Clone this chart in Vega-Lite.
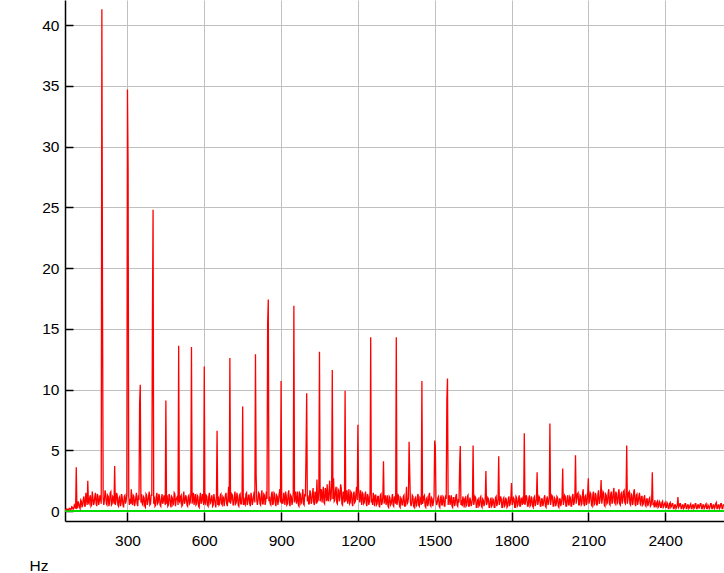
{
  "$schema": "https://vega.github.io/schema/vega-lite/v6.json",
  "width": 659,
  "height": 521,
  "autosize": "none",
  "padding": {"left": 65, "top": 0, "right": 0, "bottom": 52},
  "background": "white",
  "config": {
    "view": {"stroke": null},
    "axis": {
      "labelFont": "Liberation Sans",
      "labelFontSize": 15.5,
      "labelColor": "#000000",
      "titleFont": "Liberation Sans",
      "titleFontSize": 15.5,
      "titleFontWeight": "normal",
      "titleColor": "#000000",
      "domainColor": "#000000",
      "domainWidth": 1.5,
      "tickColor": "#000000",
      "tickWidth": 1.5,
      "gridColor": "#c0c0c0",
      "gridWidth": 1,
      "gridOpacity": 1
    }
  },
  "data": {"values": [
{"f":56,"a":0.1},{"f":57.5,"a":0.12},{"f":60,"a":0.1},{"f":62.5,"a":0.18},{"f":65,"a":0.15},{"f":67.5,"a":0.1},{"f":70,"a":0.1},{"f":72.5,"a":0.22},{"f":75,"a":0.2},{"f":77.5,"a":0.12},{"f":80,"a":0.15},{"f":82.5,"a":0.35},{"f":85,"a":0.3},{"f":87.5,"a":0.15},{"f":90,"a":0.2},{"f":92.5,"a":0.5},{"f":95,"a":0.4},{"f":97.5,"a":0.2},{"f":100,"a":3.6},{"f":102.5,"a":0.25},
{"f":105,"a":0.3},{"f":107.5,"a":0.8},{"f":110,"a":0.6},{"f":112.5,"a":0.3},{"f":115,"a":0.2},{"f":117.5,"a":0.9},{"f":120,"a":0.8},{"f":122.5,"a":0.3},{"f":125,"a":0.5},{"f":127.5,"a":1.0},{"f":130,"a":1.2},{"f":132.5,"a":0.4},{"f":135,"a":0.4},{"f":137.5,"a":1.5},{"f":140,"a":1.0},{"f":142.5,"a":0.5},{"f":145,"a":2.5},{"f":147.5,"a":0.7},{"f":150,"a":0.6},{"f":152.5,"a":1.1},
{"f":155,"a":1.3},{"f":157.5,"a":0.4},{"f":160,"a":0.5},{"f":162.5,"a":1.6},{"f":165,"a":1.1},{"f":167.5,"a":0.5},{"f":170,"a":0.7},{"f":172.5,"a":1.2},{"f":175,"a":1.5},{"f":177.5,"a":0.6},{"f":180,"a":0.4},{"f":182.5,"a":1.4},{"f":185,"a":1.2},{"f":187.5,"a":0.5},{"f":190,"a":0.8},{"f":192.5,"a":1.3},{"f":195,"a":1.0},{"f":197.5,"a":0.6},{"f":200,"a":41.3},{"f":202.5,"a":17.3},
{"f":205,"a":1.1},{"f":207.5,"a":0.5},{"f":210,"a":0.9},{"f":212.5,"a":1.7},{"f":215,"a":1.4},{"f":217.5,"a":0.6},{"f":220,"a":0.5},{"f":222.5,"a":1.3},{"f":225,"a":1.2},{"f":227.5,"a":0.4},{"f":230,"a":0.7},{"f":232.5,"a":1.5},{"f":235,"a":1.6},{"f":237.5,"a":0.5},{"f":240,"a":0.6},{"f":242.5,"a":1.2},{"f":245,"a":1.1},{"f":247.5,"a":0.6},{"f":250,"a":3.7},{"f":252.5,"a":0.5},
{"f":255,"a":0.8},{"f":257.5,"a":1.5},{"f":260,"a":1.3},{"f":262.5,"a":0.5},{"f":265,"a":0.4},{"f":267.5,"a":1.1},{"f":270,"a":1.2},{"f":272.5,"a":0.4},{"f":275,"a":0.6},{"f":277.5,"a":1.4},{"f":280,"a":1.0},{"f":282.5,"a":0.5},{"f":285,"a":0.3},{"f":287.5,"a":1.2},{"f":290,"a":1.3},{"f":292.5,"a":0.6},{"f":295,"a":0.9},{"f":297.5,"a":1.4},{"f":300,"a":34.7},{"f":302.5,"a":28.0},
{"f":305,"a":1.2},{"f":307.5,"a":0.5},{"f":310,"a":1.0},{"f":312.5,"a":0.6},{"f":315,"a":1.8},{"f":317.5,"a":0.7},{"f":320,"a":0.5},{"f":322.5,"a":1.3},{"f":325,"a":1.2},{"f":327.5,"a":0.4},{"f":330,"a":0.7},{"f":332.5,"a":1.1},{"f":335,"a":1.5},{"f":337.5,"a":0.6},{"f":340,"a":0.4},{"f":342.5,"a":1.3},{"f":345,"a":0.9},{"f":347.5,"a":8.9},{"f":350,"a":10.4},{"f":352.5,"a":0.7},
{"f":355,"a":1.4},{"f":357.5,"a":0.6},{"f":360,"a":0.5},{"f":362.5,"a":1.2},{"f":365,"a":1.1},{"f":367.5,"a":0.4},{"f":370,"a":0.3},{"f":372.5,"a":1.4},{"f":375,"a":1.3},{"f":377.5,"a":0.5},{"f":380,"a":0.8},{"f":382.5,"a":1.2},{"f":385,"a":1.6},{"f":387.5,"a":0.5},{"f":390,"a":0.6},{"f":392.5,"a":1.3},{"f":395,"a":1.3},{"f":397.5,"a":15.9},{"f":400,"a":24.8},{"f":402.5,"a":0.6},
{"f":405,"a":1.2},{"f":407.5,"a":0.4},{"f":410,"a":0.5},{"f":412.5,"a":1.2},{"f":415,"a":1.5},{"f":417.5,"a":0.6},{"f":420,"a":0.7},{"f":422.5,"a":1.4},{"f":425,"a":1.2},{"f":427.5,"a":0.5},{"f":430,"a":0.4},{"f":432.5,"a":1.0},{"f":435,"a":1.4},{"f":437.5,"a":0.6},{"f":440,"a":0.8},{"f":442.5,"a":1.3},{"f":445,"a":1.0},{"f":447.5,"a":0.5},{"f":450,"a":9.1},{"f":452.5,"a":0.6},
{"f":455,"a":1.3},{"f":457.5,"a":0.4},{"f":460,"a":0.5},{"f":462.5,"a":1.4},{"f":465,"a":1.2},{"f":467.5,"a":0.6},{"f":470,"a":0.3},{"f":472.5,"a":1.2},{"f":475,"a":1.1},{"f":477.5,"a":0.5},{"f":480,"a":0.6},{"f":482.5,"a":1.5},{"f":485,"a":1.4},{"f":487.5,"a":0.4},{"f":490,"a":0.9},{"f":492.5,"a":1.1},{"f":495,"a":1.2},{"f":497.5,"a":0.5},{"f":500,"a":13.6},{"f":502.5,"a":0.8},
{"f":505,"a":0.7},{"f":507.5,"a":1.2},{"f":510,"a":1.3},{"f":512.5,"a":0.4},{"f":515,"a":0.5},{"f":517.5,"a":1.1},{"f":520,"a":1.6},{"f":522.5,"a":0.6},{"f":525,"a":0.8},{"f":527.5,"a":1.3},{"f":530,"a":1.1},{"f":532.5,"a":0.5},{"f":535,"a":0.4},{"f":537.5,"a":1.2},{"f":540,"a":1.3},{"f":542.5,"a":0.6},{"f":545,"a":0.7},{"f":547.5,"a":1.4},{"f":550,"a":13.5},{"f":552.5,"a":0.6},
{"f":555,"a":1.0},{"f":557.5,"a":1.5},{"f":560,"a":0.5},{"f":562.5,"a":0.9},{"f":565,"a":1.4},{"f":567.5,"a":0.5},{"f":570,"a":0.6},{"f":572.5,"a":1.3},{"f":575,"a":1.2},{"f":577.5,"a":0.4},{"f":580,"a":0.3},{"f":582.5,"a":1.1},{"f":585,"a":1.5},{"f":587.5,"a":0.6},{"f":590,"a":0.8},{"f":592.5,"a":1.4},{"f":595,"a":1.1},{"f":597.5,"a":0.5},{"f":600,"a":11.9},{"f":602.5,"a":0.7},
{"f":605,"a":0.6},{"f":607.5,"a":1.3},{"f":610,"a":1.2},{"f":612.5,"a":0.5},{"f":615,"a":0.4},{"f":617.5,"a":1.2},{"f":620,"a":1.5},{"f":622.5,"a":0.6},{"f":625,"a":0.7},{"f":627.5,"a":1.1},{"f":630,"a":1.3},{"f":632.5,"a":0.4},{"f":635,"a":0.5},{"f":637.5,"a":1.4},{"f":640,"a":1.0},{"f":642.5,"a":0.6},{"f":645,"a":0.3},{"f":647.5,"a":1.2},{"f":650,"a":6.6},{"f":652.5,"a":0.5},
{"f":655,"a":1.2},{"f":657.5,"a":0.5},{"f":660,"a":0.6},{"f":662.5,"a":1.3},{"f":665,"a":1.4},{"f":667.5,"a":0.6},{"f":670,"a":0.5},{"f":672.5,"a":1.2},{"f":675,"a":1.1},{"f":677.5,"a":0.4},{"f":680,"a":0.8},{"f":682.5,"a":1.3},{"f":685,"a":1.5},{"f":687.5,"a":0.6},{"f":690,"a":0.4},{"f":692.5,"a":1.1},{"f":695,"a":2.0},{"f":697.5,"a":0.7},{"f":700,"a":12.6},{"f":702.5,"a":0.6},
{"f":705,"a":0.9},{"f":707.5,"a":1.4},{"f":710,"a":1.3},{"f":712.5,"a":0.5},{"f":715,"a":0.5},{"f":717.5,"a":1.2},{"f":720,"a":1.6},{"f":722.5,"a":0.6},{"f":725,"a":0.7},{"f":727.5,"a":1.5},{"f":730,"a":1.2},{"f":732.5,"a":0.5},{"f":735,"a":0.4},{"f":737.5,"a":1.3},{"f":740,"a":1.4},{"f":742.5,"a":0.6},{"f":745,"a":0.6},{"f":747.5,"a":1.2},{"f":750,"a":8.6},{"f":752.5,"a":0.5},
{"f":755,"a":1.1},{"f":757.5,"a":0.6},{"f":760,"a":0.5},{"f":762.5,"a":1.4},{"f":765,"a":1.5},{"f":767.5,"a":0.5},{"f":770,"a":0.7},{"f":772.5,"a":1.3},{"f":775,"a":1.3},{"f":777.5,"a":0.6},{"f":780,"a":0.4},{"f":782.5,"a":1.5},{"f":785,"a":1.2},{"f":787.5,"a":0.5},{"f":790,"a":0.8},{"f":792.5,"a":1.2},{"f":795,"a":1.6},{"f":797.5,"a":0.7},{"f":800,"a":12.9},{"f":802.5,"a":3.0},
{"f":805,"a":0.9},{"f":807.5,"a":0.5},{"f":810,"a":0.9},{"f":812.5,"a":1.5},{"f":815,"a":1.4},{"f":817.5,"a":0.6},{"f":820,"a":0.5},{"f":822.5,"a":1.3},{"f":825,"a":1.7},{"f":827.5,"a":0.6},{"f":830,"a":0.6},{"f":832.5,"a":1.4},{"f":835,"a":1.3},{"f":837.5,"a":0.5},{"f":840,"a":0.8},{"f":842.5,"a":1.6},{"f":845,"a":1.0},{"f":847.5,"a":15.4},{"f":850,"a":17.4},{"f":852.5,"a":0.8},
{"f":855,"a":1.2},{"f":857.5,"a":0.6},{"f":860,"a":0.5},{"f":862.5,"a":1.4},{"f":865,"a":1.6},{"f":867.5,"a":0.5},{"f":870,"a":0.7},{"f":872.5,"a":1.5},{"f":875,"a":1.4},{"f":877.5,"a":0.6},{"f":880,"a":0.4},{"f":882.5,"a":1.3},{"f":885,"a":1.2},{"f":887.5,"a":0.5},{"f":890,"a":0.9},{"f":892.5,"a":1.4},{"f":895,"a":1.8},{"f":897.5,"a":0.7},{"f":900,"a":10.7},{"f":902.5,"a":0.6},
{"f":905,"a":1.0},{"f":907.5,"a":0.6},{"f":910,"a":1.5},{"f":912.5,"a":1.1},{"f":915,"a":0.5},{"f":917.5,"a":1.6},{"f":920,"a":1.3},{"f":922.5,"a":0.5},{"f":925,"a":0.6},{"f":927.5,"a":1.4},{"f":930,"a":1.7},{"f":932.5,"a":0.6},{"f":935,"a":0.4},{"f":937.5,"a":1.3},{"f":940,"a":1.2},{"f":942.5,"a":0.5},{"f":945,"a":0.8},{"f":947.5,"a":1.5},{"f":950,"a":16.9},{"f":952.5,"a":0.7},
{"f":955,"a":1.1},{"f":957.5,"a":1.6},{"f":960,"a":0.6},{"f":962.5,"a":0.9},{"f":965,"a":1.6},{"f":967.5,"a":0.5},{"f":970,"a":0.4},{"f":972.5,"a":1.5},{"f":975,"a":1.4},{"f":977.5,"a":0.6},{"f":980,"a":0.7},{"f":982.5,"a":1.3},{"f":985,"a":1.8},{"f":987.5,"a":0.6},{"f":990,"a":0.5},{"f":992.5,"a":1.4},{"f":995,"a":1.2},{"f":997.5,"a":4.9},{"f":1000,"a":9.7},{"f":1002.5,"a":0.8},
{"f":1005,"a":1.3},{"f":1007.5,"a":0.6},{"f":1010,"a":0.6},{"f":1012.5,"a":1.7},{"f":1015,"a":1.5},{"f":1017.5,"a":0.6},{"f":1020,"a":0.8},{"f":1022.5,"a":1.4},{"f":1025,"a":1.9},{"f":1027.5,"a":0.7},{"f":1030,"a":0.5},{"f":1032.5,"a":1.6},{"f":1035,"a":1.4},{"f":1037.5,"a":0.6},{"f":1040,"a":2.6},{"f":1042.5,"a":0.8},{"f":1045,"a":0.9},{"f":1047.5,"a":1.7},{"f":1050,"a":13.1},{"f":1052.5,"a":0.8},
{"f":1055,"a":1.2},{"f":1057.5,"a":1.8},{"f":1060,"a":0.7},{"f":1062.5,"a":1.3},{"f":1065,"a":2.0},{"f":1067.5,"a":0.7},{"f":1070,"a":0.6},{"f":1072.5,"a":1.9},{"f":1075,"a":1.6},{"f":1077.5,"a":0.8},{"f":1080,"a":2.2},{"f":1082.5,"a":1.0},{"f":1085,"a":0.8},{"f":1087.5,"a":1.8},{"f":1090,"a":2.5},{"f":1092.5,"a":0.9},{"f":1095,"a":1.0},{"f":1097.5,"a":2.1},{"f":1100,"a":11.6},{"f":1102.5,"a":1.0},
{"f":1105,"a":2.7},{"f":1107.5,"a":0.8},{"f":1110,"a":0.9},{"f":1112.5,"a":1.7},{"f":1115,"a":2.0},{"f":1117.5,"a":0.7},{"f":1120,"a":0.6},{"f":1122.5,"a":1.8},{"f":1125,"a":1.7},{"f":1127.5,"a":0.8},{"f":1130,"a":1.1},{"f":1132.5,"a":2.2},{"f":1135,"a":1.9},{"f":1137.5,"a":0.6},{"f":1140,"a":0.5},{"f":1142.5,"a":1.6},{"f":1145,"a":1.4},{"f":1147.5,"a":0.7},{"f":1150,"a":9.9},{"f":1152.5,"a":0.8},
{"f":1155,"a":1.2},{"f":1157.5,"a":1.7},{"f":1160,"a":0.6},{"f":1162.5,"a":1.0},{"f":1165,"a":1.8},{"f":1167.5,"a":0.6},{"f":1170,"a":0.7},{"f":1172.5,"a":1.6},{"f":1175,"a":1.5},{"f":1177.5,"a":0.6},{"f":1180,"a":0.4},{"f":1182.5,"a":1.4},{"f":1185,"a":1.6},{"f":1187.5,"a":0.7},{"f":1190,"a":0.8},{"f":1192.5,"a":1.5},{"f":1195,"a":2.0},{"f":1197.5,"a":0.9},{"f":1200,"a":7.1},{"f":1202.5,"a":1.8},
{"f":1205,"a":1.1},{"f":1207.5,"a":0.7},{"f":1210,"a":1.7},{"f":1212.5,"a":1.2},{"f":1215,"a":0.5},{"f":1217.5,"a":1.5},{"f":1220,"a":1.4},{"f":1222.5,"a":0.6},{"f":1225,"a":0.7},{"f":1227.5,"a":1.3},{"f":1230,"a":1.6},{"f":1232.5,"a":0.6},{"f":1235,"a":0.4},{"f":1237.5,"a":1.4},{"f":1240,"a":1.2},{"f":1242.5,"a":0.5},{"f":1245,"a":0.8},{"f":1247.5,"a":1.5},{"f":1250,"a":14.3},{"f":1252.5,"a":0.7},
{"f":1255,"a":1.0},{"f":1257.5,"a":0.5},{"f":1260,"a":1.5},{"f":1262.5,"a":1.1},{"f":1265,"a":0.4},{"f":1267.5,"a":1.3},{"f":1270,"a":1.3},{"f":1272.5,"a":0.5},{"f":1275,"a":0.6},{"f":1277.5,"a":1.2},{"f":1280,"a":1.2},{"f":1282.5,"a":0.5},{"f":1285,"a":0.3},{"f":1287.5,"a":1.3},{"f":1290,"a":1.4},{"f":1292.5,"a":0.5},{"f":1295,"a":0.7},{"f":1297.5,"a":1.2},{"f":1300,"a":4.1},{"f":1302.5,"a":0.6},
{"f":1305,"a":1.0},{"f":1307.5,"a":1.3},{"f":1310,"a":0.5},{"f":1312.5,"a":0.8},{"f":1315,"a":1.3},{"f":1317.5,"a":0.4},{"f":1320,"a":0.3},{"f":1322.5,"a":1.2},{"f":1325,"a":1.1},{"f":1327.5,"a":0.5},{"f":1330,"a":0.6},{"f":1332.5,"a":1.0},{"f":1335,"a":1.4},{"f":1337.5,"a":0.5},{"f":1340,"a":0.4},{"f":1342.5,"a":1.2},{"f":1345,"a":1.0},{"f":1347.5,"a":0.6},{"f":1350,"a":14.3},{"f":1352.5,"a":0.5},
{"f":1355,"a":0.8},{"f":1357.5,"a":1.3},{"f":1360,"a":1.2},{"f":1362.5,"a":0.4},{"f":1365,"a":0.3},{"f":1367.5,"a":1.1},{"f":1370,"a":1.0},{"f":1372.5,"a":0.5},{"f":1375,"a":0.5},{"f":1377.5,"a":1.2},{"f":1380,"a":1.3},{"f":1382.5,"a":0.4},{"f":1385,"a":0.4},{"f":1387.5,"a":1.0},{"f":1390,"a":2.0},{"f":1392.5,"a":0.6},{"f":1395,"a":0.7},{"f":1397.5,"a":1.1},{"f":1400,"a":5.7},{"f":1402.5,"a":3.2},
{"f":1405,"a":0.8},{"f":1407.5,"a":0.4},{"f":1410,"a":0.6},{"f":1412.5,"a":1.3},{"f":1415,"a":1.2},{"f":1417.5,"a":0.4},{"f":1420,"a":0.3},{"f":1422.5,"a":1.0},{"f":1425,"a":1.1},{"f":1427.5,"a":0.4},{"f":1430,"a":0.5},{"f":1432.5,"a":1.2},{"f":1435,"a":1.4},{"f":1437.5,"a":0.5},{"f":1440,"a":0.4},{"f":1442.5,"a":1.1},{"f":1445,"a":1.0},{"f":1447.5,"a":0.5},{"f":1450,"a":10.7},{"f":1452.5,"a":0.6},
{"f":1455,"a":0.8},{"f":1457.5,"a":1.2},{"f":1460,"a":1.3},{"f":1462.5,"a":0.4},{"f":1465,"a":0.3},{"f":1467.5,"a":1.0},{"f":1470,"a":1.1},{"f":1472.5,"a":0.4},{"f":1475,"a":0.6},{"f":1477.5,"a":1.3},{"f":1480,"a":1.5},{"f":1482.5,"a":0.5},{"f":1485,"a":0.4},{"f":1487.5,"a":1.1},{"f":1490,"a":1.0},{"f":1492.5,"a":0.4},{"f":1495,"a":0.7},{"f":1497.5,"a":1.2},{"f":1500,"a":5.8},{"f":1502.5,"a":5.3},
{"f":1505,"a":0.9},{"f":1507.5,"a":0.5},{"f":1510,"a":0.7},{"f":1512.5,"a":1.1},{"f":1515,"a":1.2},{"f":1517.5,"a":0.4},{"f":1520,"a":0.3},{"f":1522.5,"a":1.0},{"f":1525,"a":1.3},{"f":1527.5,"a":0.5},{"f":1530,"a":0.5},{"f":1532.5,"a":1.2},{"f":1535,"a":1.1},{"f":1537.5,"a":0.4},{"f":1540,"a":0.4},{"f":1542.5,"a":1.3},{"f":1545,"a":1.0},{"f":1547.5,"a":9.2},{"f":1550,"a":10.9},{"f":1552.5,"a":0.5},
{"f":1555,"a":1.0},{"f":1557.5,"a":1.3},{"f":1560,"a":0.5},{"f":1562.5,"a":0.8},{"f":1565,"a":1.3},{"f":1567.5,"a":0.4},{"f":1570,"a":0.3},{"f":1572.5,"a":1.1},{"f":1575,"a":1.1},{"f":1577.5,"a":0.4},{"f":1580,"a":0.6},{"f":1582.5,"a":1.2},{"f":1585,"a":1.4},{"f":1587.5,"a":0.5},{"f":1590,"a":0.4},{"f":1592.5,"a":1.0},{"f":1595,"a":0.7},{"f":1597.5,"a":3.8},{"f":1600,"a":5.35},{"f":1602.5,"a":0.5},
{"f":1605,"a":0.9},{"f":1607.5,"a":0.4},{"f":1610,"a":1.2},{"f":1612.5,"a":0.9},{"f":1615,"a":0.3},{"f":1617.5,"a":1.0},{"f":1620,"a":1.1},{"f":1622.5,"a":0.4},{"f":1625,"a":0.5},{"f":1627.5,"a":1.2},{"f":1630,"a":1.3},{"f":1632.5,"a":0.4},{"f":1635,"a":0.4},{"f":1637.5,"a":1.1},{"f":1640,"a":0.9},{"f":1642.5,"a":0.4},{"f":1645,"a":0.6},{"f":1647.5,"a":1.0},{"f":1650,"a":5.4},{"f":1652.5,"a":0.5},
{"f":1655,"a":0.8},{"f":1657.5,"a":1.2},{"f":1660,"a":1.1},{"f":1662.5,"a":0.3},{"f":1665,"a":0.3},{"f":1667.5,"a":0.9},{"f":1670,"a":1.0},{"f":1672.5,"a":0.4},{"f":1675,"a":0.5},{"f":1677.5,"a":1.1},{"f":1680,"a":1.2},{"f":1682.5,"a":0.4},{"f":1685,"a":0.3},{"f":1687.5,"a":1.0},{"f":1690,"a":0.9},{"f":1692.5,"a":0.4},{"f":1695,"a":0.6},{"f":1697.5,"a":1.1},{"f":1700,"a":3.3},{"f":1702.5,"a":0.5},
{"f":1705,"a":0.7},{"f":1707.5,"a":1.1},{"f":1710,"a":1.0},{"f":1712.5,"a":0.3},{"f":1715,"a":0.3},{"f":1717.5,"a":0.9},{"f":1720,"a":1.1},{"f":1722.5,"a":0.4},{"f":1725,"a":0.5},{"f":1727.5,"a":1.0},{"f":1730,"a":0.9},{"f":1732.5,"a":0.3},{"f":1735,"a":0.3},{"f":1737.5,"a":1.1},{"f":1740,"a":1.2},{"f":1742.5,"a":0.4},{"f":1745,"a":0.6},{"f":1747.5,"a":1.0},{"f":1750,"a":4.5},{"f":1752.5,"a":0.5},
{"f":1755,"a":0.8},{"f":1757.5,"a":1.2},{"f":1760,"a":1.0},{"f":1762.5,"a":0.3},{"f":1765,"a":0.3},{"f":1767.5,"a":1.0},{"f":1770,"a":1.1},{"f":1772.5,"a":0.4},{"f":1775,"a":0.5},{"f":1777.5,"a":1.1},{"f":1780,"a":0.9},{"f":1782.5,"a":0.3},{"f":1785,"a":0.4},{"f":1787.5,"a":1.0},{"f":1790,"a":1.2},{"f":1792.5,"a":0.4},{"f":1795,"a":0.6},{"f":1797.5,"a":1.1},{"f":1800,"a":2.3},{"f":1802.5,"a":0.5},
{"f":1805,"a":0.7},{"f":1807.5,"a":1.1},{"f":1810,"a":1.0},{"f":1812.5,"a":0.3},{"f":1815,"a":0.3},{"f":1817.5,"a":1.2},{"f":1820,"a":1.1},{"f":1822.5,"a":0.4},{"f":1825,"a":0.5},{"f":1827.5,"a":1.0},{"f":1830,"a":1.3},{"f":1832.5,"a":0.4},{"f":1835,"a":0.4},{"f":1837.5,"a":1.1},{"f":1840,"a":0.9},{"f":1842.5,"a":0.5},{"f":1845,"a":1.2},{"f":1847.5,"a":0.6},{"f":1850,"a":6.4},{"f":1852.5,"a":0.5},
{"f":1855,"a":0.8},{"f":1857.5,"a":1.3},{"f":1860,"a":1.1},{"f":1862.5,"a":0.4},{"f":1865,"a":0.4},{"f":1867.5,"a":1.0},{"f":1870,"a":1.3},{"f":1872.5,"a":0.4},{"f":1875,"a":0.5},{"f":1877.5,"a":1.2},{"f":1880,"a":1.0},{"f":1882.5,"a":0.4},{"f":1885,"a":0.3},{"f":1887.5,"a":1.1},{"f":1890,"a":1.2},{"f":1892.5,"a":0.4},{"f":1895,"a":0.6},{"f":1897.5,"a":1.0},{"f":1900,"a":3.2},{"f":1902.5,"a":0.5},
{"f":1905,"a":0.8},{"f":1907.5,"a":1.2},{"f":1910,"a":1.1},{"f":1912.5,"a":0.4},{"f":1915,"a":0.4},{"f":1917.5,"a":1.0},{"f":1920,"a":1.0},{"f":1922.5,"a":0.4},{"f":1925,"a":0.6},{"f":1927.5,"a":1.1},{"f":1930,"a":1.3},{"f":1932.5,"a":0.4},{"f":1935,"a":0.3},{"f":1937.5,"a":1.0},{"f":1940,"a":1.2},{"f":1942.5,"a":0.5},{"f":1945,"a":0.7},{"f":1947.5,"a":1.1},{"f":1950,"a":7.2},{"f":1952.5,"a":0.5},
{"f":1955,"a":0.9},{"f":1957.5,"a":1.3},{"f":1960,"a":1.2},{"f":1962.5,"a":0.4},{"f":1965,"a":0.4},{"f":1967.5,"a":1.1},{"f":1970,"a":1.0},{"f":1972.5,"a":0.4},{"f":1975,"a":0.6},{"f":1977.5,"a":1.2},{"f":1980,"a":1.1},{"f":1982.5,"a":0.4},{"f":1985,"a":0.3},{"f":1987.5,"a":1.0},{"f":1990,"a":1.0},{"f":1992.5,"a":0.4},{"f":1995,"a":0.7},{"f":1997.5,"a":1.1},{"f":2000,"a":3.5},{"f":2002.5,"a":0.5},
{"f":2005,"a":0.8},{"f":2007.5,"a":1.3},{"f":2010,"a":1.2},{"f":2012.5,"a":0.4},{"f":2015,"a":0.4},{"f":2017.5,"a":1.1},{"f":2020,"a":1.3},{"f":2022.5,"a":0.5},{"f":2025,"a":0.5},{"f":2027.5,"a":1.2},{"f":2030,"a":1.1},{"f":2032.5,"a":0.4},{"f":2035,"a":0.4},{"f":2037.5,"a":1.2},{"f":2040,"a":1.4},{"f":2042.5,"a":0.5},{"f":2045,"a":0.7},{"f":2047.5,"a":1.3},{"f":2050,"a":4.6},{"f":2052.5,"a":0.6},
{"f":2055,"a":1.0},{"f":2057.5,"a":1.4},{"f":2060,"a":1.5},{"f":2062.5,"a":0.5},{"f":2065,"a":0.5},{"f":2067.5,"a":1.3},{"f":2070,"a":1.2},{"f":2072.5,"a":0.5},{"f":2075,"a":0.6},{"f":2077.5,"a":1.4},{"f":2080,"a":1.8},{"f":2082.5,"a":0.6},{"f":2085,"a":0.4},{"f":2087.5,"a":1.2},{"f":2090,"a":1.3},{"f":2092.5,"a":0.5},{"f":2095,"a":0.7},{"f":2097.5,"a":1.4},{"f":2100,"a":2.7},{"f":2102.5,"a":0.6},
{"f":2105,"a":0.9},{"f":2107.5,"a":1.5},{"f":2110,"a":1.4},{"f":2112.5,"a":0.5},{"f":2115,"a":0.4},{"f":2117.5,"a":1.3},{"f":2120,"a":1.6},{"f":2122.5,"a":0.5},{"f":2125,"a":0.6},{"f":2127.5,"a":1.5},{"f":2130,"a":1.3},{"f":2132.5,"a":0.5},{"f":2135,"a":0.5},{"f":2137.5,"a":1.4},{"f":2140,"a":1.7},{"f":2142.5,"a":0.6},{"f":2145,"a":0.8},{"f":2147.5,"a":1.3},{"f":2150,"a":2.55},{"f":2152.5,"a":0.6},
{"f":2155,"a":1.0},{"f":2157.5,"a":1.6},{"f":2160,"a":1.5},{"f":2162.5,"a":0.5},{"f":2165,"a":0.4},{"f":2167.5,"a":1.4},{"f":2170,"a":1.3},{"f":2172.5,"a":0.6},{"f":2175,"a":0.7},{"f":2177.5,"a":1.5},{"f":2180,"a":1.8},{"f":2182.5,"a":0.6},{"f":2185,"a":0.5},{"f":2187.5,"a":1.4},{"f":2190,"a":1.6},{"f":2192.5,"a":0.6},{"f":2195,"a":0.8},{"f":2197.5,"a":1.5},{"f":2200,"a":1.9},{"f":2202.5,"a":0.7},
{"f":2205,"a":0.6},{"f":2207.5,"a":1.6},{"f":2210,"a":1.4},{"f":2212.5,"a":0.6},{"f":2215,"a":0.7},{"f":2217.5,"a":1.5},{"f":2220,"a":1.8},{"f":2222.5,"a":0.6},{"f":2225,"a":0.5},{"f":2227.5,"a":1.4},{"f":2230,"a":1.5},{"f":2232.5,"a":0.6},{"f":2235,"a":0.9},{"f":2237.5,"a":1.6},{"f":2240,"a":1.7},{"f":2242.5,"a":0.7},{"f":2245,"a":0.6},{"f":2247.5,"a":1.5},{"f":2250,"a":5.4},{"f":2252.5,"a":0.6},
{"f":2255,"a":1.0},{"f":2257.5,"a":1.5},{"f":2260,"a":1.6},{"f":2262.5,"a":0.6},{"f":2265,"a":0.5},{"f":2267.5,"a":1.4},{"f":2270,"a":1.3},{"f":2272.5,"a":0.5},{"f":2275,"a":0.7},{"f":2277.5,"a":1.6},{"f":2280,"a":1.8},{"f":2282.5,"a":0.6},{"f":2285,"a":0.4},{"f":2287.5,"a":1.3},{"f":2290,"a":1.4},{"f":2292.5,"a":0.5},{"f":2295,"a":0.8},{"f":2297.5,"a":1.2},{"f":2300,"a":1.5},{"f":2302.5,"a":0.6},
{"f":2305,"a":0.5},{"f":2307.5,"a":1.2},{"f":2310,"a":1.2},{"f":2312.5,"a":0.5},{"f":2315,"a":0.6},{"f":2317.5,"a":1.1},{"f":2320,"a":1.3},{"f":2322.5,"a":0.5},{"f":2325,"a":0.4},{"f":2327.5,"a":1.0},{"f":2330,"a":1.0},{"f":2332.5,"a":0.4},{"f":2335,"a":0.6},{"f":2337.5,"a":1.0},{"f":2340,"a":1.1},{"f":2342.5,"a":0.4},{"f":2345,"a":0.5},{"f":2347.5,"a":0.9},{"f":2350,"a":3.2},{"f":2352.5,"a":0.5},
{"f":2355,"a":0.7},{"f":2357.5,"a":0.3},{"f":2360,"a":0.9},{"f":2362.5,"a":0.5},{"f":2365,"a":0.3},{"f":2367.5,"a":0.7},{"f":2370,"a":0.8},{"f":2372.5,"a":0.3},{"f":2375,"a":0.4},{"f":2377.5,"a":0.8},{"f":2380,"a":0.7},{"f":2382.5,"a":0.3},{"f":2385,"a":0.3},{"f":2387.5,"a":0.7},{"f":2390,"a":0.8},{"f":2392.5,"a":0.3},{"f":2395,"a":0.4},{"f":2397.5,"a":0.6},{"f":2400,"a":0.7},{"f":2402.5,"a":0.3},
{"f":2405,"a":0.3},{"f":2407.5,"a":0.7},{"f":2410,"a":0.6},{"f":2412.5,"a":0.2},{"f":2415,"a":0.2},{"f":2417.5,"a":0.6},{"f":2420,"a":0.7},{"f":2422.5,"a":0.3},{"f":2425,"a":0.4},{"f":2427.5,"a":0.6},{"f":2430,"a":0.6},{"f":2432.5,"a":0.2},{"f":2435,"a":0.2},{"f":2437.5,"a":0.5},{"f":2440,"a":0.5},{"f":2442.5,"a":0.2},{"f":2445,"a":0.3},{"f":2447.5,"a":0.5},{"f":2450,"a":1.15},{"f":2452.5,"a":0.3},
{"f":2455,"a":0.4},{"f":2457.5,"a":0.6},{"f":2460,"a":0.6},{"f":2462.5,"a":0.2},{"f":2465,"a":0.2},{"f":2467.5,"a":0.5},{"f":2470,"a":0.5},{"f":2472.5,"a":0.2},{"f":2475,"a":0.3},{"f":2477.5,"a":0.6},{"f":2480,"a":0.6},{"f":2482.5,"a":0.2},{"f":2485,"a":0.2},{"f":2487.5,"a":0.5},{"f":2490,"a":0.5},{"f":2492.5,"a":0.2},{"f":2495,"a":0.3},{"f":2497.5,"a":0.5},{"f":2500,"a":0.6},{"f":2502.5,"a":0.2},
{"f":2505,"a":0.2},{"f":2507.5,"a":0.5},{"f":2510,"a":0.5},{"f":2512.5,"a":0.2},{"f":2515,"a":0.3},{"f":2517.5,"a":0.6},{"f":2520,"a":0.6},{"f":2522.5,"a":0.2},{"f":2525,"a":0.2},{"f":2527.5,"a":0.5},{"f":2530,"a":0.5},{"f":2532.5,"a":0.2},{"f":2535,"a":0.4},{"f":2537.5,"a":0.6},{"f":2540,"a":0.6},{"f":2542.5,"a":0.2},{"f":2545,"a":0.2},{"f":2547.5,"a":0.5},{"f":2550,"a":0.5},{"f":2552.5,"a":0.2},
{"f":2555,"a":0.3},{"f":2557.5,"a":0.5},{"f":2560,"a":0.6},{"f":2562.5,"a":0.2},{"f":2565,"a":0.2},{"f":2567.5,"a":0.5},{"f":2570,"a":0.4},{"f":2572.5,"a":0.2},{"f":2575,"a":0.3},{"f":2577.5,"a":0.6},{"f":2580,"a":0.6},{"f":2582.5,"a":0.2},{"f":2585,"a":0.2},{"f":2587.5,"a":0.5},{"f":2590,"a":0.5},{"f":2592.5,"a":0.2},{"f":2595,"a":0.3},{"f":2597.5,"a":0.6},{"f":2600,"a":0.7},{"f":2602.5,"a":0.2},
{"f":2605,"a":0.2},{"f":2607.5,"a":0.5},{"f":2610,"a":0.5},{"f":2612.5,"a":0.2},{"f":2615,"a":0.3},{"f":2617.5,"a":0.6},{"f":2620,"a":0.6},{"f":2622.5,"a":0.2},{"f":2625,"a":0.2},{"f":2627.5,"a":0.5},{"f":2630,"a":0.5}
  ]},
  "encoding": {
    "x": {
      "field": "f",
      "type": "quantitative",
      "scale": {"domain": [56, 2630], "nice": false, "zero": false},
      "axis": {
        "title": "Hz",
        "format": "d",
        "values": [300, 600, 900, 1200, 1500, 1800, 2100, 2400],
        "tickSize": -9,
        "labelPadding": 21,
        "labelFlush": false,
        "labelFont": "Liberation Sans",
        "labelFontSize": 15.5,
        "titleAnchor": "start",
        "titleAlign": "left",
        "titleBaseline": "alphabetic",
        "titleX": -36,
        "titleY": 49
      }
    },
    "y": {
      "field": "a",
      "type": "quantitative",
      "scale": {"domain": [-0.82, 42.06], "nice": false, "zero": false},
      "axis": {
        "title": null,
        "values": [0, 5, 10, 15, 20, 25, 30, 35, 40],
        "tickSize": -8,
        "labelPadding": 14,
        "labelFont": "Liberation Sans",
        "labelFontSize": 15.5
      }
    }
  },
  "layer": [
    {
      "mark": {"type": "rule", "color": "#00dd00", "strokeWidth": 1.2},
      "encoding": {"x": null, "y": {"datum": 0}}
    },
    {
      "mark": {"type": "line", "color": "#ff0000", "strokeWidth": 1.3, "clip": true, "interpolate": "linear"}
    }
  ]
}
